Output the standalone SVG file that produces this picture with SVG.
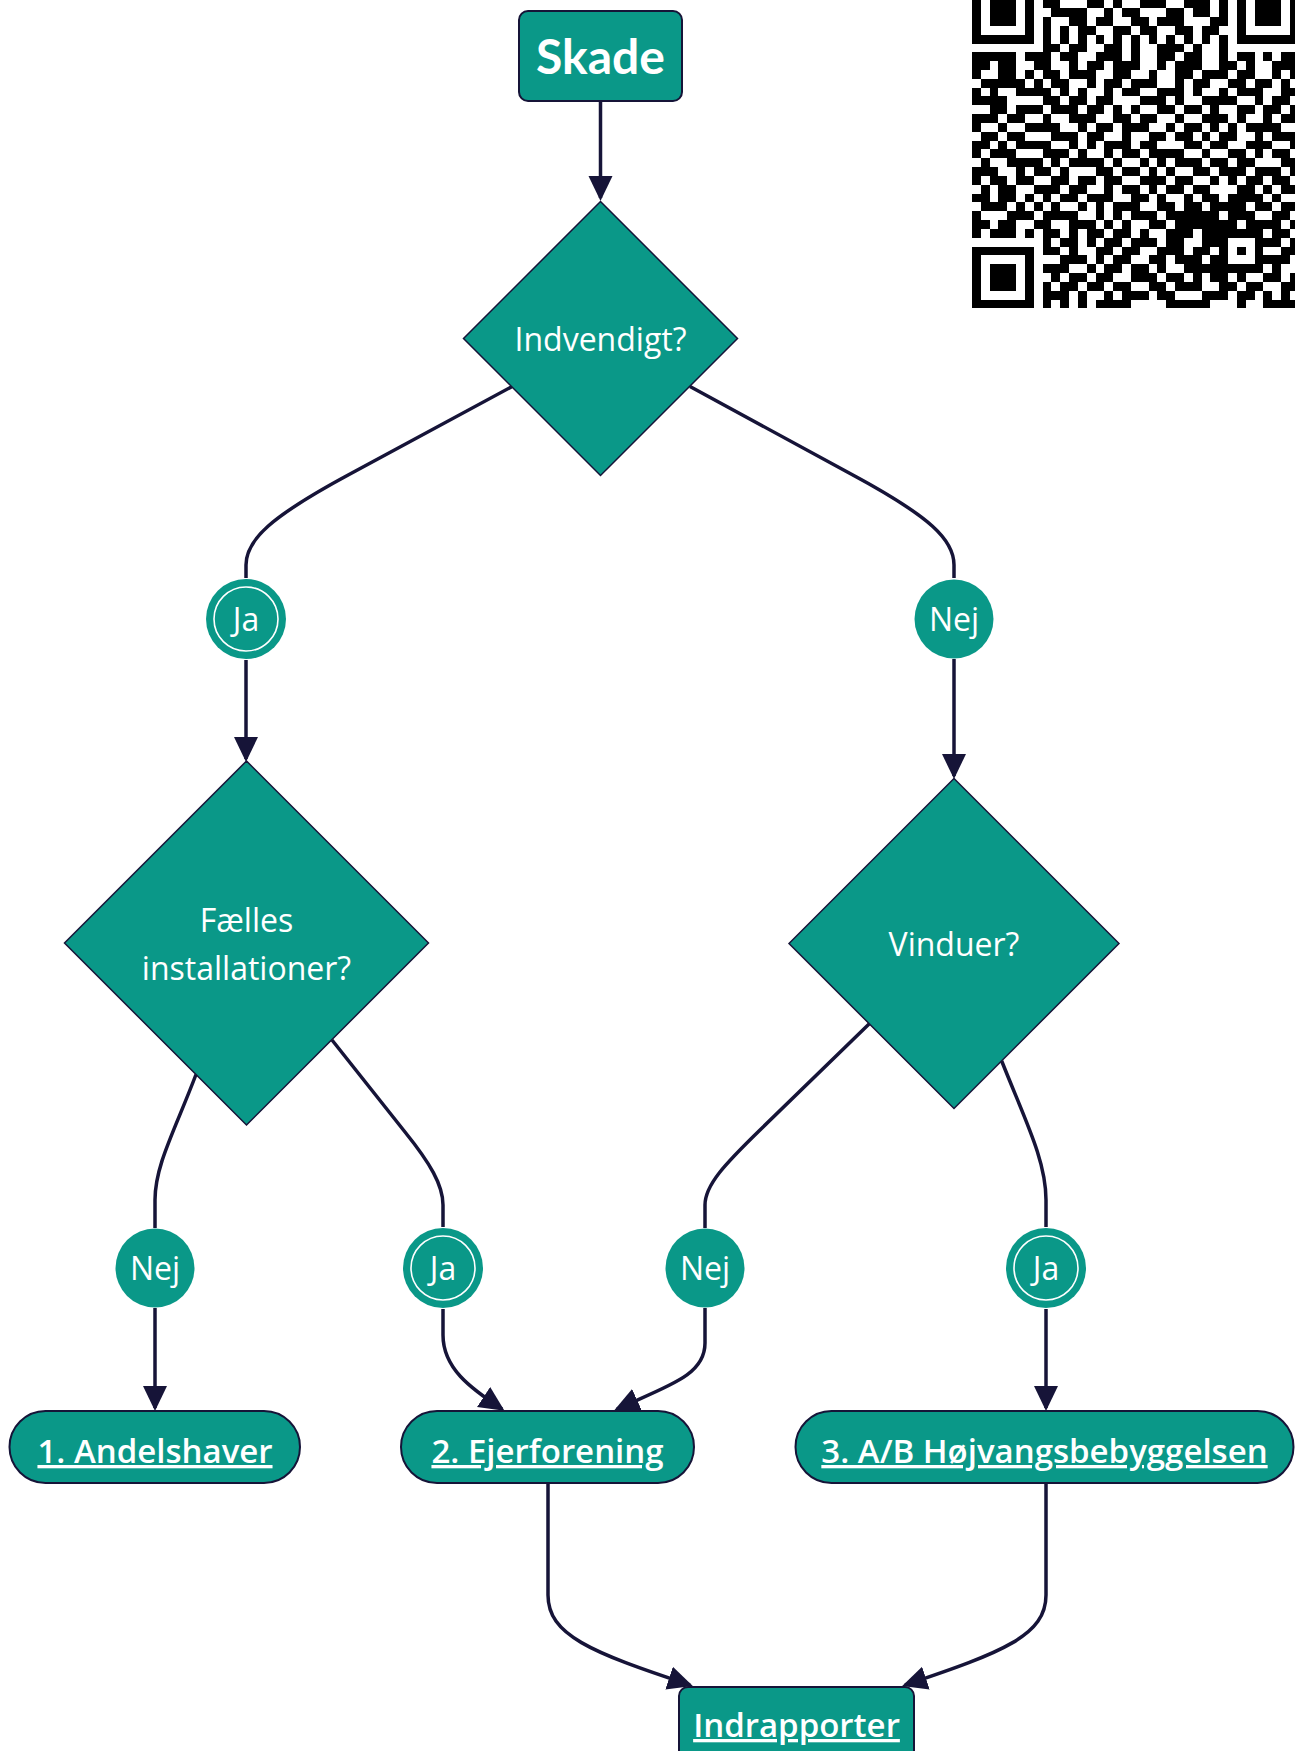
<svg xmlns="http://www.w3.org/2000/svg" width="1295" height="1751" viewBox="0 0 1295 1751">
<style>
.shape{fill:#0a9888;stroke:#161438;stroke-width:2}
.dia{fill:#0a9888;stroke:#161438;stroke-width:1.5}
.circ{fill:#0a9888;stroke:none}
.ring{fill:none;stroke:#ffffff;stroke-width:1.6}
.edge{fill:none;stroke:#161438;stroke-width:3.5}
.arr{marker-end:url(#ah)}
.t{fill:#ffffff;font-family:"Open Sans","Noto Sans",sans-serif;font-size:32px;text-anchor:middle}
.b{font-weight:600;font-size:33px;text-decoration:underline}
.qr{fill:#000000;shape-rendering:crispEdges}
</style>
<defs>
<marker id="ah" markerUnits="userSpaceOnUse" markerWidth="26" markerHeight="26" viewBox="0 0 26 24" refX="22" refY="12" orient="auto">
<path d="M0,0 L25,12 L0,24 z" fill="#161438"/>
</marker>
</defs>
<rect x="0" y="0" width="1295" height="1751" fill="#ffffff"/>

<g id="qr" transform="translate(972,-18.3) scale(8.83)">
<path class="qr" fill-rule="evenodd" d="M0 0h7v7h-7z M1 1h5v5h-5z M2 2h3v3h-3z M30 0h7v7h-7z M31 1h5v5h-5z M32 2h3v3h-3z M0 30h7v7h-7z M1 31h5v5h-5z M2 32h3v3h-3z"/>
<path class="qr" d="M8 2h2v1h-2z M13 2h2v1h-2z M16 2h1v1h-1z M19 2h3v1h-3z M24 2h3v1h-3z M28 2h1v1h-1z
M9 3h4v1h-4z M15 3h1v1h-1z M17 3h2v1h-2z M22 3h2v1h-2z M25 3h2v1h-2z M28 3h1v1h-1z
M8 4h1v1h-1z M11 4h2v1h-2z M14 4h2v1h-2z M18 4h2v1h-2z M21 4h3v1h-3z M27 4h2v1h-2z
M8 5h1v1h-1z M10 5h1v1h-1z M12 5h2v1h-2z M16 5h2v1h-2z M19 5h2v1h-2z M23 5h2v1h-2z M26 5h2v1h-2z
M8 6h1v1h-1z M10 6h1v1h-1z M12 6h1v1h-1z M14 6h1v1h-1z M16 6h1v1h-1z M18 6h1v1h-1z M20 6h1v1h-1z M22 6h1v1h-1z M24 6h1v1h-1z M26 6h1v1h-1z M28 6h1v1h-1z
M8 7h2v1h-2z M11 7h2v1h-2z M15 7h2v1h-2z M18 7h1v1h-1z M21 7h3v1h-3z M25 7h1v1h-1z M28 7h1v1h-1z
M0 8h5v1h-5z M6 8h3v1h-3z M10 8h2v1h-2z M14 8h3v1h-3z M18 8h1v1h-1z M21 8h2v1h-2z M24 8h2v1h-2z M28 8h1v1h-1z M30 8h2v1h-2z M33 8h1v1h-1z M35 8h2v1h-2z
M0 9h2v1h-2z M3 9h2v1h-2z M7 9h2v1h-2z M11 9h1v1h-1z M13 9h2v1h-2z M16 9h3v1h-3z M21 9h1v1h-1z M23 9h3v1h-3z M28 9h2v1h-2z M31 9h1v1h-1z M34 9h3v1h-3z
M0 10h1v1h-1z M3 10h2v1h-2z M6 10h1v1h-1z M8 10h2v1h-2z M11 10h3v1h-3z M16 10h2v1h-2z M20 10h1v1h-1z M23 10h2v1h-2z M26 10h3v1h-3z M30 10h2v1h-2z M34 10h1v1h-1z M36 10h1v1h-1z
M1 11h5v1h-5z M7 11h1v1h-1z M9 11h2v1h-2z M13 11h1v1h-1z M15 11h2v1h-2z M18 11h3v1h-3z M23 11h1v1h-1z M25 11h2v1h-2z M29 11h2v1h-2z M32 11h2v1h-2z M35 11h1v1h-1z
M0 12h1v1h-1z M2 12h1v1h-1z M5 12h4v1h-4z M10 12h1v1h-1z M12 12h1v1h-1z M15 12h1v1h-1z M17 12h2v1h-2z M21 12h3v1h-3z M25 12h1v1h-1z M28 12h1v1h-1z M30 12h3v1h-3z M35 12h2v1h-2z
M0 13h4v1h-4z M8 13h2v1h-2z M11 13h2v1h-2z M14 13h2v1h-2z M19 13h3v1h-3z M23 13h1v1h-1z M26 13h4v1h-4z M32 13h1v1h-1z M34 13h2v1h-2z
M2 14h2v1h-2z M5 14h3v1h-3z M9 14h3v1h-3z M13 14h2v1h-2z M16 14h1v1h-1z M18 14h1v1h-1z M21 14h2v1h-2z M24 14h2v1h-2z M27 14h1v1h-1z M30 14h2v1h-2z M33 14h2v1h-2z M36 14h1v1h-1z
M0 15h3v1h-3z M4 15h2v1h-2z M8 15h1v1h-1z M11 15h3v1h-3z M16 15h2v1h-2z M19 15h2v1h-2z M23 15h1v1h-1z M26 15h3v1h-3z M30 15h1v1h-1z M33 15h1v1h-1z M35 15h2v1h-2z
M0 16h1v1h-1z M3 16h1v1h-1z M6 16h4v1h-4z M12 16h1v1h-1z M14 16h2v1h-2z M17 16h3v1h-3z M22 16h1v1h-1z M24 16h2v1h-2z M27 16h1v1h-1z M29 16h1v1h-1z M31 16h4v1h-4z
M1 17h2v1h-2z M4 17h2v1h-2z M9 17h3v1h-3z M13 17h2v1h-2z M17 17h1v1h-1z M20 17h2v1h-2z M23 17h2v1h-2z M26 17h1v1h-1z M28 17h2v1h-2z M32 17h1v1h-1z M34 17h3v1h-3z
M0 18h2v1h-2z M3 18h1v1h-1z M5 18h4v1h-4z M11 18h1v1h-1z M13 18h1v1h-1z M15 18h3v1h-3z M19 18h2v1h-2z M24 18h2v1h-2z M27 18h2v1h-2z M31 18h3v1h-3z M36 18h1v1h-1z
M0 19h1v1h-1z M2 19h3v1h-3z M8 19h3v1h-3z M12 19h1v1h-1z M15 19h1v1h-1z M17 19h2v1h-2z M20 19h4v1h-4z M26 19h1v1h-1z M29 19h2v1h-2z M32 19h1v1h-1z M34 19h2v1h-2z
M1 20h1v1h-1z M4 20h4v1h-4z M9 20h1v1h-1z M11 20h4v1h-4z M16 20h1v1h-1z M19 20h1v1h-1z M21 20h1v1h-1z M23 20h3v1h-3z M27 20h2v1h-2z M30 20h2v1h-2z M35 20h2v1h-2z
M0 21h3v1h-3z M5 21h1v1h-1z M7 21h2v1h-2z M10 21h1v1h-1z M14 21h2v1h-2z M17 21h2v1h-2z M20 21h1v1h-1z M22 21h1v1h-1z M25 21h2v1h-2z M28 21h3v1h-3z M32 21h3v1h-3z M36 21h1v1h-1z
M0 22h1v1h-1z M2 22h2v1h-2z M5 22h2v1h-2z M9 22h2v1h-2z M12 22h2v1h-2z M15 22h2v1h-2z M19 22h3v1h-3z M23 22h2v1h-2z M27 22h1v1h-1z M29 22h1v1h-1z M31 22h2v1h-2z M34 22h2v1h-2z
M1 23h1v1h-1z M3 23h2v1h-2z M7 23h3v1h-3z M11 23h2v1h-2z M15 23h1v1h-1z M17 23h2v1h-2z M20 23h1v1h-1z M22 23h2v1h-2z M25 23h2v1h-2z M30 23h2v1h-2z M33 23h1v1h-1z M35 23h2v1h-2z
M0 24h2v1h-2z M3 24h2v1h-2z M6 24h1v1h-1z M8 24h1v1h-1z M10 24h2v1h-2z M13 24h3v1h-3z M18 24h2v1h-2z M21 24h1v1h-1z M24 24h1v1h-1z M26 24h2v1h-2z M29 24h4v1h-4z M34 24h1v1h-1z
M1 25h3v1h-3z M5 25h1v1h-1z M7 25h1v1h-1z M9 25h1v1h-1z M12 25h1v1h-1z M14 25h1v1h-1z M16 25h3v1h-3z M21 25h2v1h-2z M24 25h2v1h-2z M27 25h4v1h-4z M32 25h2v1h-2z M35 25h2v1h-2z
M0 26h1v1h-1z M4 26h3v1h-3z M8 26h4v1h-4z M14 26h1v1h-1z M16 26h1v1h-1z M18 26h3v1h-3z M22 26h6v1h-6z M29 26h3v1h-3z M34 26h2v1h-2z
M0 27h2v1h-2z M3 27h2v1h-2z M7 27h2v1h-2z M11 27h3v1h-3z M15 27h1v1h-1z M17 27h1v1h-1z M20 27h2v1h-2z M23 27h7v1h-7z M31 27h4v1h-4z M36 27h1v1h-1z
M0 28h1v1h-1z M2 28h3v1h-3z M6 28h1v1h-1z M8 28h2v1h-2z M11 28h1v1h-1z M13 28h2v1h-2z M16 28h2v1h-2z M19 28h1v1h-1z M22 28h3v1h-3z M26 28h7v1h-7z M34 28h2v1h-2z
M8 29h1v1h-1z M10 29h2v1h-2z M13 29h1v1h-1z M15 29h2v1h-2z M18 29h3v1h-3z M22 29h2v1h-2z M26 29h3v1h-3z M32 29h3v1h-3z M36 29h1v1h-1z
M8 30h2v1h-2z M11 30h1v1h-1z M14 30h2v1h-2z M17 30h2v1h-2z M21 30h3v1h-3z M25 30h2v1h-2z M28 30h1v1h-1z M30 30h1v1h-1z M32 30h1v1h-1z M35 30h2v1h-2z
M10 31h3v1h-3z M14 31h1v1h-1z M16 31h2v1h-2z M20 31h2v1h-2z M23 31h3v1h-3z M27 31h2v1h-2z M32 31h4v1h-4z
M8 32h3v1h-3z M13 32h1v1h-1z M15 32h2v1h-2z M18 32h2v1h-2z M21 32h1v1h-1z M24 32h9v1h-9z M34 32h1v1h-1z
M9 33h1v1h-1z M11 33h2v1h-2z M14 33h2v1h-2z M18 33h3v1h-3z M22 33h2v1h-2z M25 33h1v1h-1z M27 33h2v1h-2z M30 33h1v1h-1z M33 33h2v1h-2z M36 33h1v1h-1z
M8 34h1v1h-1z M10 34h2v1h-2z M13 34h2v1h-2z M16 34h2v1h-2z M20 34h2v1h-2z M23 34h3v1h-3z M28 34h2v1h-2z M31 34h2v1h-2z M35 34h2v1h-2z
M8 35h3v1h-3z M12 35h1v1h-1z M15 35h1v1h-1z M17 35h3v1h-3z M21 35h2v1h-2z M26 35h3v1h-3z M30 35h2v1h-2z M33 35h1v1h-1z M35 35h1v1h-1z
M8 36h1v1h-1z M10 36h1v1h-1z M12 36h1v1h-1z M14 36h4v1h-4z M22 36h5v1h-5z M30 36h1v1h-1z M33 36h4v1h-4z"/>
</g>

<g id="connectors">
<path class="edge arr" d="M600.5,101 L600.5,198"/>
<path class="edge" d="M511.7,386.7 L350,474 C270,517 246,540 246,565 L246,578"/>
<path class="edge" d="M690,386.5 L851,474 C931,517 954,540 954,565 L954,578"/>
<path class="edge arr" d="M246,660 L246,759"/>
<path class="edge arr" d="M954,659 L954,776"/>
<path class="edge" d="M196,1074.5 C175,1130 155,1165 155,1200 L155,1228"/>
<path class="edge" d="M332,1040 L405,1132 C430,1163 443,1185 443,1205 L443,1227"/>
<path class="edge" d="M869.3,1023.8 L760,1130 C725,1164 705,1185 705,1205 L705,1228"/>
<path class="edge" d="M1001.7,1061 C1025,1120 1046,1160 1046,1200 L1046,1227"/>
<path class="edge arr" d="M155,1308 L155,1408"/>
<path class="edge arr" d="M443,1309 L443,1335 C443,1368 470,1388 502,1409"/>
<path class="edge arr" d="M705,1308 L705,1343 C705,1375 670,1385 617,1409"/>
<path class="edge arr" d="M1046,1309 L1046,1408"/>
<path class="edge arr" d="M548,1483 L548,1595 C548,1635 590,1652 690,1685"/>
<path class="edge arr" d="M1046,1483 L1046,1595 C1046,1635 1004,1652 905,1685"/>
</g>

<g id="skade">
<rect class="shape" x="519" y="11" width="163" height="90" rx="9"/>
<text class="t" x="600.5" y="74" style="font-family:Lato,'Open Sans',sans-serif;font-size:48px;font-weight:bold">Skade</text>
</g>
<g id="indvendigt">
<polygon class="dia" points="600.5,201.5 737.5,338.5 600.5,475.5 463.5,338.5"/>
<text class="t" x="600.5" y="350.5">Indvendigt?</text>
</g>
<g id="ja1">
<circle class="circ" cx="246" cy="619" r="40"/>
<circle class="ring" cx="246" cy="619" r="32"/>
<text class="t" x="246" y="631">Ja</text>
</g>
<g id="nej1">
<circle class="circ" cx="954" cy="619" r="39.5"/>
<text class="t" x="954" y="631">Nej</text>
</g>
<g id="faelles">
<polygon class="dia" points="246.5,761 428.5,943 246.5,1125 64.5,943"/>
<text class="t" x="246.5" y="932">Fælles</text>
<text class="t" x="246.5" y="980">installationer?</text>
</g>
<g id="vinduer">
<polygon class="dia" points="954,778.5 1119,943.5 954,1108.5 789,943.5"/>
<text class="t" x="954" y="956">Vinduer?</text>
</g>
<g id="nej2">
<circle class="circ" cx="155" cy="1268" r="39.5"/>
<text class="t" x="155" y="1280">Nej</text>
</g>
<g id="ja2">
<circle class="circ" cx="443" cy="1268" r="40"/>
<circle class="ring" cx="443" cy="1268" r="32"/>
<text class="t" x="443" y="1280">Ja</text>
</g>
<g id="nej3">
<circle class="circ" cx="705" cy="1268" r="39.5"/>
<text class="t" x="705" y="1280">Nej</text>
</g>
<g id="ja3">
<circle class="circ" cx="1046" cy="1268" r="40"/>
<circle class="ring" cx="1046" cy="1268" r="32"/>
<text class="t" x="1046" y="1280">Ja</text>
</g>
<g id="andelshaver">
<rect class="shape" x="9.5" y="1411" width="290.5" height="72" rx="36"/>
<text class="t b" x="155" y="1463">1. Andelshaver</text>
</g>
<g id="ejerforening">
<rect class="shape" x="401" y="1411" width="293" height="72" rx="36"/>
<text class="t b" x="547.5" y="1463">2. Ejerforening</text>
</g>
<g id="hojvang">
<rect class="shape" x="795.5" y="1411" width="498" height="72" rx="36"/>
<text class="t b" x="1044.5" y="1463">3. A/B Højvangsbebyggelsen</text>
</g>
<g id="indrapporter">
<rect class="shape" x="679" y="1687" width="235" height="82" rx="9"/>
<text class="t b" x="796.5" y="1737">Indrapporter</text>
</g>
</svg>
